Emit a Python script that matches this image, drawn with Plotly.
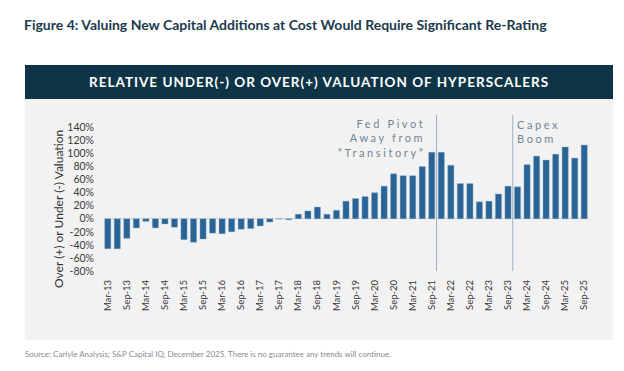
import plotly.graph_objects as go

# ---------------- data ----------------
quarters = []
for yr in range(13, 26):
    for m in ["Mar", "Jun", "Sep", "Dec"]:
        quarters.append(f"{m}-{yr}")
quarters = quarters[:51]  # Mar-13 .. Sep-25

valuation_pct = [
    -46, -46, -30, -14,      # 2013
    -4, -14, -8, -13,        # 2014
    -32, -36, -31, -22,      # 2015
    -23, -20, -16, -15,      # 2016
    -11, -5, -0.5, -1.5,     # 2017
    7, 12, 18, 7,            # 2018
    13, 27, 31, 34,          # 2019
    40, 50, 69, 66,          # 2020
    66, 80, 102, 102,        # 2021
    82, 54, 54, 26,          # 2022
    27, 38, 50, 49,          # 2023
    83, 96, 90, 99,          # 2024
    110, 93, 113,            # 2025
]

tick_labels = [q for q in quarters if q.startswith("Mar") or q.startswith("Sep")]
y_ticks = [-80, -60, -40, -20, 0, 20, 40, 60, 80, 100, 120, 140]
y_tick_text = [f"{v}%" for v in y_ticks]

event_after = ["Sep-21", "Sep-23"]  # vertical lines drawn just after these bars

title = "Figure 4: Valuing New Capital Additions at Cost Would Require Significant Re-Rating"
header = "RELATIVE UNDER(-) OR OVER(+) VALUATION OF HYPERSCALERS"
y_title = "Over (+) or Under (-) Valuation"
source = "Source: Carlyle Analysis; S&P Capital IQ, December 2025. There is no guarantee any trends will continue."

# ---------------- layout geometry (pixels) ----------------
W, H = 624, 371
L, R, T, B = 95, 43, 107, 108
PW, PH = W - L - R, H - T - B

def px(x):
    return (x - L) / PW

def py(y):
    return (H - B - y) / PH

FONT = "Lato"
NAVY = "#0e3547"
BAR = "#2a6496"
PANEL = "#f2f2f2"
LINE = "#9fb0be"
ANN = "#6f8497"

fig = go.Figure()
fig.add_trace(go.Bar(
    x=quarters, y=valuation_pct,
    marker=dict(color=BAR, line=dict(color="#8fb0cc", width=0.4)),
    hoverinfo="x+y",
))

shapes = [
    # grey panel
    dict(type="rect", xref="paper", yref="paper", x0=px(17), x1=px(605), y0=py(332), y1=py(91),
         fillcolor=PANEL, line=dict(width=0), layer="below"),
    # header band
    dict(type="rect", xref="paper", yref="paper", x0=px(17), x1=px(605), y0=py(91), y1=py(57),
         fillcolor=NAVY, line=dict(width=0), layer="below"),
]
for q in event_after:
    i = quarters.index(q)
    shapes.append(dict(type="line", xref="x", yref="paper", x0=i + 0.5, x1=i + 0.5, y0=0, y1=1,
                       line=dict(color=LINE, width=1)))

annotations = [
    dict(text=f"<b>{title}</b>", xref="paper", yref="paper", x=px(14), y=py(16),
         xanchor="left", yanchor="middle", showarrow=False,
         font=dict(family=FONT, size=14, color="#1b3a4c")),
    dict(text=f"<b><span style='letter-spacing:1px'>{header}</span></b>", xref="paper", yref="paper",
         x=px(311), y=py(74), xanchor="center", yanchor="middle", showarrow=False,
         font=dict(family=FONT, size=13.5, color="white")),
    dict(text=y_title, xref="paper", yref="paper", x=px(50), y=py(201), textangle=-90,
         xanchor="center", yanchor="middle", showarrow=False,
         font=dict(family=FONT, size=12, color="#333333")),
    dict(text="<span style='letter-spacing:2.6px'>Fed Pivot<br>Away from<br>“Transitory”</span>",
         xref="paper", yref="paper", x=px(419), y=py(129.5), xanchor="right", yanchor="middle",
         align="right", showarrow=False, font=dict(family=FONT, size=11, color=ANN)),
    dict(text="<span style='letter-spacing:2.6px'>Capex<br>Boom</span>",
         xref="paper", yref="paper", x=px(507), y=py(123.5), xanchor="left", yanchor="middle",
         align="left", showarrow=False, font=dict(family=FONT, size=11, color=ANN)),
    dict(text=source, xref="paper", yref="paper", x=px(15), y=py(346),
         xanchor="left", yanchor="middle", showarrow=False,
         font=dict(family=FONT, size=8, color="#8a8a8a")),
]

fig.update_layout(
    width=W, height=H,
    margin=dict(l=L, r=R, t=T, b=B),
    paper_bgcolor="white", plot_bgcolor="rgba(0,0,0,0)",
    bargap=0.35, showlegend=False,
    shapes=shapes, annotations=annotations,
    font=dict(family=FONT, color="#333333"),
)
fig.update_xaxes(
    type="category", categoryorder="array", categoryarray=quarters,
    tickmode="array", tickvals=tick_labels, ticktext=tick_labels,
    tickangle=-90, tickfont=dict(family=FONT, size=9.5, color="#3a3a3a"),
    showgrid=False, showline=False, ticks="", zeroline=False,
    range=[-0.5, len(quarters) - 0.5], ticklabelstandoff=6,
)
fig.update_yaxes(
    range=[-80, 159], tickmode="array", tickvals=y_ticks, ticktext=y_tick_text,
    tickfont=dict(family=FONT, size=10.5, color="#3a3a3a"),
    showgrid=False, showline=False, ticks="",
    zeroline=True, zerolinecolor="#c9d4dd", zerolinewidth=1, ticklabelstandoff=8,
)

fig.write_html("out.html")
